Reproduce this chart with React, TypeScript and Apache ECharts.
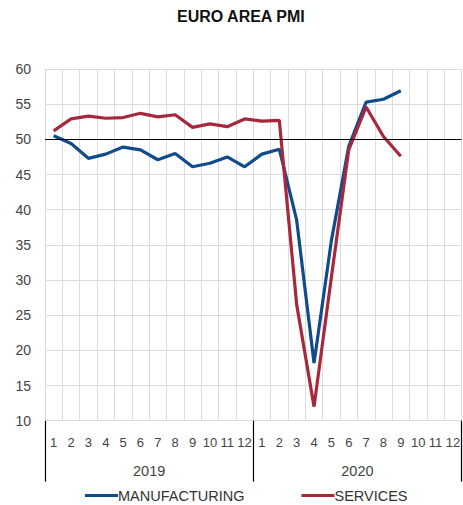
import React, { useEffect, useRef } from "react";
import * as echarts from "echarts";

const months = ["1","2","3","4","5","6","7","8","9","10","11","12","1","2","3","4","5","6","7","8","9","10","11","12"];
const years = ["2019", "2020"];
const manufacturing = [50.5, 49.4, 47.3, 47.9, 48.9, 48.5, 47.1, 48.0, 46.1, 46.6, 47.5, 46.1, 47.9, 48.6, 38.5, 18.2, 35.6, 49.0, 55.3, 55.7, 56.9, null, null, null];
const services = [51.2, 52.9, 53.3, 53.0, 53.1, 53.7, 53.2, 53.5, 51.7, 52.2, 51.8, 52.9, 52.6, 52.7, 26.5, 12.0, 30.4, 48.5, 54.6, 50.4, 47.6, null, null, null];

const FONT = "Liberation Sans";

export default function App() {
  const ref = useRef<HTMLDivElement>(null);
  useEffect(() => {
    if (!ref.current) return;
    const chart = echarts.init(ref.current, undefined, { renderer: "svg" });
    chart.setOption({
      animation: false,
      backgroundColor: "#fff",
      textStyle: { fontFamily: FONT },
      title: {
        text: "EURO AREA PMI",
        left: 177,
        top: 8,
        padding: 0,
        textStyle: { fontSize: 16, fontWeight: "bold", color: "#111", fontFamily: FONT },
      },
      legend: {
        left: 85,
        top: 488,
        padding: 0,
        icon: "rect",
        itemWidth: 33,
        itemHeight: 3,
        itemGap: 57,
        textStyle: { fontSize: 14.5, color: "#333", fontFamily: FONT, padding: [0, 0, 0, -5] },
        data: ["MANUFACTURING", "SERVICES"],
      },
      grid: { left: 45, top: 69, width: 422, height: 351.7, containLabel: false },
      xAxis: [
        {
          type: "category",
          data: months,
          boundaryGap: true,
          axisLine: { show: false },
          axisTick: { show: false },
          axisLabel: { interval: 0, margin: 15, fontSize: 13, color: "#444", fontFamily: FONT },
          splitLine: { show: true, interval: 0, lineStyle: { color: "#dcdcdc", width: 1 } },
        },
        {
          type: "category",
          data: years,
          position: "bottom",
          boundaryGap: true,
          axisLine: { show: false },
          axisTick: { show: true, interval: 0, length: 61, lineStyle: { color: "#000", width: 1.2 } },
          axisLabel: { interval: 0, margin: 43, fontSize: 14.5, color: "#444", fontFamily: FONT },
          splitLine: { show: false },
        },
      ],
      yAxis: {
        type: "value",
        min: 10,
        max: 60,
        interval: 5,
        axisLine: { show: false },
        axisTick: { show: false },
        axisLabel: { margin: 14, fontSize: 14, color: "#444", fontFamily: FONT },
        splitLine: { show: true, lineStyle: { color: "#dcdcdc", width: 1 } },
      },
      series: [
        {
          name: "MANUFACTURING",
          type: "line",
          data: manufacturing,
          xAxisIndex: 0,
          showSymbol: false,
          symbol: "none",
          lineStyle: { color: "#124b8c", width: 3.2 },
          itemStyle: { color: "#124b8c" },
          markLine: {
            silent: true,
            symbol: "none",
            label: { show: false },
            lineStyle: { color: "#000", width: 1, type: "solid" },
            data: [{ yAxis: 50 }],
          },
          z: 3,
        },
        {
          name: "SERVICES",
          type: "line",
          data: services,
          xAxisIndex: 0,
          showSymbol: false,
          symbol: "none",
          lineStyle: { color: "#a7283d", width: 3.2 },
          itemStyle: { color: "#a7283d" },
          z: 4,
        },
      ],
    });
    return () => chart.dispose();
  }, []);
  return <div ref={ref} style={{ width: 463, height: 505, position: "absolute", left: 0, top: 0 }} />;
}
